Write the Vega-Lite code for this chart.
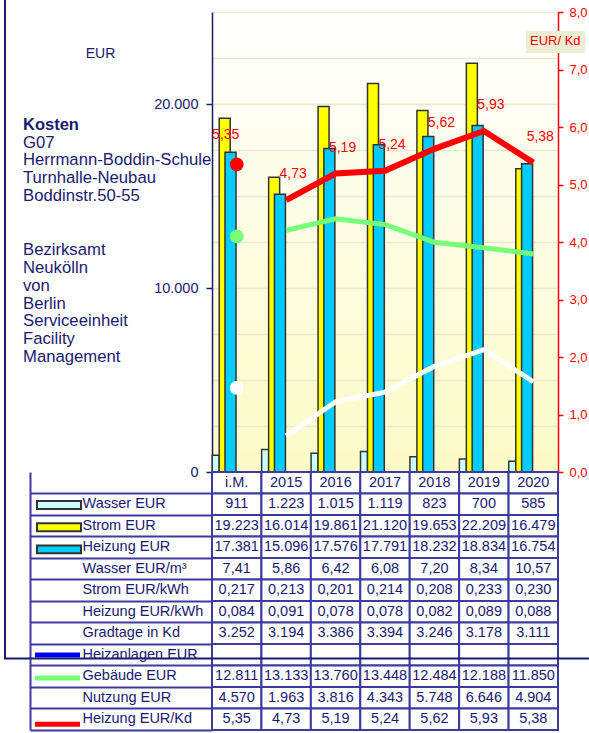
{
  "$schema": "https://vega.github.io/schema/vega-lite/v6.json",
  "padding": {"left": 4, "top": 2, "right": 0, "bottom": 0},
  "background": "white",
  "spacing": 0,
  "bounds": "flush",
  "config": {
    "locale": {"number": {"decimal": ",", "thousands": ".", "grouping": [3], "currency": ["", " €"]}},
    "font": "Liberation Sans",
    "view": {"stroke": null}
  },
  "datasets": {
    "main": [
      {"cat": "i.M.", "wasser": 911, "strom": 19223, "heizung": 17381, "gebaeude": 12811, "nutzung": 4570, "kd": 5.35},
      {"cat": "2015", "wasser": 1223, "strom": 16014, "heizung": 15096, "gebaeude": 13133, "nutzung": 1963, "kd": 4.73},
      {"cat": "2016", "wasser": 1015, "strom": 19861, "heizung": 17576, "gebaeude": 13760, "nutzung": 3816, "kd": 5.19},
      {"cat": "2017", "wasser": 1119, "strom": 21120, "heizung": 17791, "gebaeude": 13448, "nutzung": 4343, "kd": 5.24},
      {"cat": "2018", "wasser": 823, "strom": 19653, "heizung": 18232, "gebaeude": 12484, "nutzung": 5748, "kd": 5.62},
      {"cat": "2019", "wasser": 700, "strom": 22209, "heizung": 18834, "gebaeude": 12188, "nutzung": 6646, "kd": 5.93},
      {"cat": "2020", "wasser": 585, "strom": 16479, "heizung": 16754, "gebaeude": 11850, "nutzung": 4904, "kd": 5.38}
    ],
    "table": [
      {"r": "hdr", "iM": "i.M.", "y2015": "2015", "y2016": "2016", "y2017": "2017", "y2018": "2018", "y2019": "2019", "y2020": "2020"},
      {"r": "Wasser EUR", "iM": "911", "y2015": "1.223", "y2016": "1.015", "y2017": "1.119", "y2018": "823", "y2019": "700", "y2020": "585"},
      {"r": "Strom EUR", "iM": "19.223", "y2015": "16.014", "y2016": "19.861", "y2017": "21.120", "y2018": "19.653", "y2019": "22.209", "y2020": "16.479"},
      {"r": "Heizung EUR", "iM": "17.381", "y2015": "15.096", "y2016": "17.576", "y2017": "17.791", "y2018": "18.232", "y2019": "18.834", "y2020": "16.754"},
      {"r": "Wasser EUR/m³", "iM": "7,41", "y2015": "5,86", "y2016": "6,42", "y2017": "6,08", "y2018": "7,20", "y2019": "8,34", "y2020": "10,57"},
      {"r": "Strom EUR/kWh", "iM": "0,217", "y2015": "0,213", "y2016": "0,201", "y2017": "0,214", "y2018": "0,208", "y2019": "0,233", "y2020": "0,230"},
      {"r": "Heizung EUR/kWh", "iM": "0,084", "y2015": "0,091", "y2016": "0,078", "y2017": "0,078", "y2018": "0,082", "y2019": "0,089", "y2020": "0,088"},
      {"r": "Gradtage in Kd", "iM": "3.252", "y2015": "3.194", "y2016": "3.386", "y2017": "3.394", "y2018": "3.246", "y2019": "3.178", "y2020": "3.111"},
      {"r": "Heizanlagen EUR", "iM": "", "y2015": "", "y2016": "", "y2017": "", "y2018": "", "y2019": "", "y2020": ""},
      {"r": "Gebäude EUR", "iM": "12.811", "y2015": "13.133", "y2016": "13.760", "y2017": "13.448", "y2018": "12.484", "y2019": "12.188", "y2020": "11.850"},
      {"r": "Nutzung EUR", "iM": "4.570", "y2015": "1.963", "y2016": "3.816", "y2017": "4.343", "y2018": "5.748", "y2019": "6.646", "y2020": "4.904"},
      {"r": "Heizung EUR/Kd", "iM": "5,35", "y2015": "4,73", "y2016": "5,19", "y2017": "5,24", "y2018": "5,62", "y2019": "5,93", "y2020": "5,38"}
    ]
  },
  "vconcat": [
    {
      "width": 346,
      "height": 460,
      "data": {"name": "main"},
      "view": {
        "fill": {"gradient": "linear", "x1": 0, "y1": 0, "x2": 0, "y2": 1, "stops": [{"offset": 0, "color": "#ffffff"}, {"offset": 1, "color": "#fcfbc6"}]},
        "stroke": null
      },
      "title": {
        "text": "Kosten",
        "subtitle": ["G07", "Herrmann-Boddin-Schule", "Turnhalle-Neubau", "Boddinstr.50-55", "\u200b", "\u200b", "Bezirksamt", "Neukölln", "von", "Berlin", "Serviceeinheit", "Facility", "Management"],
        "orient": "top",
        "anchor": "start",
        "frame": "group",
        "align": "left",
        "dx": -189,
        "dy": 360,
        "offset": 0,
        "font": "Liberation Sans",
        "fontSize": 16.5,
        "fontWeight": "bold",
        "color": "#1a1a70",
        "subtitleFont": "Liberation Sans",
        "subtitleFontSize": 16.7,
        "subtitleColor": "#1a1a70",
        "subtitlePadding": 1,
        "subtitleLineHeight": 17.9
      },
      "encoding": {
        "x": {"field": "cat", "type": "nominal", "sort": null, "scale": {"domain": ["i.M.", "2015", "2016", "2017", "2018", "2019", "2020"], "paddingInner": 0, "paddingOuter": 0}, "axis": null}
      },
      "layer": [
        {
          "layer": [
            {
              "mark": {"type": "bar", "width": 7, "xOffset": -21, "stroke": "#333333", "strokeWidth": 1.5},
              "encoding": {
                "y": {
                  "field": "wasser", "type": "quantitative", "title": "EUR",
                  "scale": {"domain": [0, 25000], "nice": false},
                  "axis": {
                    "values": [0, 2500, 5000, 7500, 10000, 12500, 15000, 17500, 20000, 22500, 25000],
                    "format": ",d",
                    "labelExpr": "datum.value % 10000 === 0 ? datum.label : ''",
                    "tickOpacity": {"condition": {"test": "datum.value % 10000 === 0", "value": 1}, "value": 0},
                    "tickSize": 6, "tickColor": "#1a1a70", "tickWidth": 1.5,
                    "grid": true, "gridColor": "#ebe9cf", "gridWidth": 1.5,
                    "domainColor": "#1a1a70", "domainWidth": 1.5,
                    "labelColor": "#1a1a70", "labelFontSize": 14.5, "labelPadding": 8,
                    "titleAngle": 0, "titleX": -112, "titleY": 41, "titleAlign": "center", "titleBaseline": "middle",
                    "titleFontWeight": "normal", "titleFontSize": 14, "titleColor": "#1a1a70"
                  }
                },
                "fill": {
                  "datum": "Wasser EUR", "type": "nominal",
                  "scale": {"domain": ["Wasser EUR", "Strom EUR", "Heizung EUR"], "range": ["#ccffff", "#ffff00", "#00ccff"]},
                  "legend": {
                    "orient": "none", "legendX": -159.5, "legendY": 486.5, "title": null,
                    "labelExpr": "''", "labelFontSize": 6, "padding": 0, "rowPadding": 5.2,
                    "symbolType": "M-4,-0.72H4V0.72H-4Z", "symbolSize": 121,
                    "symbolStrokeColor": "#333333", "symbolStrokeWidth": 2, "symbolOpacity": 1
                  }
                }
              }
            },
            {
              "mark": {"type": "bar", "width": 11, "xOffset": -12, "stroke": "#333333", "strokeWidth": 1.5},
              "encoding": {
                "y": {"field": "strom", "type": "quantitative", "title": "EUR"},
                "fill": {"datum": "Strom EUR", "type": "nominal"}
              }
            },
            {
              "mark": {"type": "bar", "width": 11, "xOffset": -6.2, "stroke": "#333333", "strokeWidth": 1.5},
              "encoding": {
                "y": {"field": "heizung", "type": "quantitative", "title": "EUR"},
                "fill": {"datum": "Heizung EUR", "type": "nominal"}
              }
            },
            {
              "transform": [{"filter": "datum.cat !== 'i.M.'"}],
              "mark": {"type": "line", "strokeWidth": 5},
              "encoding": {
                "y": {"field": "gebaeude", "type": "quantitative", "title": "EUR"},
                "stroke": {
                  "datum": "Gebäude EUR", "type": "nominal",
                  "scale": {"domain": ["Heizanlagen EUR", "Gebäude EUR", "Nutzung EUR", "Heizung EUR/Kd"], "range": ["#0000ff", "#77ff77", "#ffffff", "#ff0000"]},
                  "legend": {
                    "orient": "none", "legendX": -160, "legendY": 637.5, "title": null,
                    "labelExpr": "''", "labelFontSize": 4, "padding": 0, "rowPadding": 2.1,
                    "symbolType": "M-8,0H8", "symbolSize": 31.64, "symbolStrokeWidth": 5, "symbolOpacity": 1,
                    "symbolFillColor": "transparent"
                  }
                },
                "strokeDash": {
                  "datum": "rahmen", "type": "nominal",
                  "scale": {"range": [[1, 0]]},
                  "legend": {
                    "orient": "none", "legendX": -208, "legendY": -10, "title": null,
                    "labelExpr": "''", "labelFontSize": 1, "padding": 0,
                    "symbolType": "M-1,-1.241H1V1.241H-1Z", "symbolSize": 342225,
                    "symbolStrokeColor": "#1a1a70", "symbolStrokeWidth": 2, "symbolFillColor": "transparent", "symbolOpacity": 1
                  }
                }
              }
            },
            {
              "transform": [{"filter": "datum.cat !== 'i.M.'"}],
              "mark": {"type": "line", "strokeWidth": 5},
              "encoding": {
                "y": {"field": "nutzung", "type": "quantitative", "title": "EUR"},
                "stroke": {"datum": "Nutzung EUR", "type": "nominal"}
              }
            },
            {
              "transform": [{"filter": "datum.cat === 'i.M.'"}],
              "mark": {"type": "point", "filled": true, "size": 190, "opacity": 1, "color": "#77ff77"},
              "encoding": {"y": {"field": "gebaeude", "type": "quantitative", "title": "EUR"}}
            },
            {
              "transform": [{"filter": "datum.cat === 'i.M.'"}],
              "mark": {"type": "point", "filled": true, "size": 190, "opacity": 1, "color": "#ffffff"},
              "encoding": {"y": {"field": "nutzung", "type": "quantitative", "title": "EUR"}}
            }
          ]
        },
        {
          "layer": [
            {
              "transform": [{"filter": "datum.cat !== 'i.M.'"}],
              "mark": {"type": "line", "strokeWidth": 6},
              "encoding": {
                "y": {
                  "field": "kd", "type": "quantitative", "title": null,
                  "scale": {"domain": [0, 8], "nice": false},
                  "axis": {
                    "orient": "right",
                    "title": null,
                    "values": [0, 1, 2, 3, 4, 5, 6, 7, 8],
                    "format": ".1f",
                    "grid": false,
                    "domainColor": "#ff0000", "domainWidth": 1.5,
                    "tickColor": "#ff0000", "tickSize": 5, "tickWidth": 1.5,
                    "labelColor": "#ff0000", "labelFontSize": 13, "labelPadding": 6
                  }
                },
                "stroke": {"datum": "Heizung EUR/Kd", "type": "nominal"},
                "opacity": {
                  "datum": "einheit", "type": "ordinal",
                  "scale": {"range": [1]},
                  "legend": {
                    "orient": "none", "legendX": 314, "legendY": 19,
                    "title": "EUR/ Kd", "titleColor": "#ff0000", "titleFontSize": 13, "titleFontWeight": "normal",
                    "titleFont": "Liberation Sans", "titlePadding": 0,
                    "fillColor": "#efedd3", "padding": 4,
                    "labelExpr": "''", "labelFontSize": 1, "symbolSize": 0, "symbolOpacity": 0, "symbolStrokeWidth": 0
                  }
                }
              }
            },
            {
              "transform": [{"filter": "datum.cat === 'i.M.'"}],
              "mark": {"type": "point", "filled": true, "size": 190, "opacity": 1, "color": "#ff0000"},
              "encoding": {"y": {"field": "kd", "type": "quantitative", "title": null}}
            },
            {
              "transform": [{"filter": "datum.cat === 'i.M.'"}],
              "mark": {"type": "text", "color": "#ff0000", "fontSize": 14, "dx": -11, "dy": -29},
              "encoding": {
                "y": {"field": "kd", "type": "quantitative", "title": null},
                "text": {"field": "kd", "type": "quantitative", "format": ".2f"}
              }
            },
            {
              "transform": [{"filter": "datum.cat !== 'i.M.'"}],
              "mark": {"type": "text", "color": "#ff0000", "fontSize": 14, "dx": 7, "dy": -26},
              "encoding": {
                "y": {"field": "kd", "type": "quantitative", "title": null},
                "text": {"field": "kd", "type": "quantitative", "format": ".2f"}
              }
            }
          ]
        }
      ],
      "resolve": {"scale": {"y": "independent"}}
    },
    {
      "width": 346,
      "height": 258,
      "data": {"name": "table"},
      "transform": [{"fold": ["iM", "y2015", "y2016", "y2017", "y2018", "y2019", "y2020"], "as": ["c", "v"]}],
      "encoding": {
        "x": {"field": "c", "type": "nominal", "scale": {"domain": ["iM", "y2015", "y2016", "y2017", "y2018", "y2019", "y2020"], "paddingInner": 0, "paddingOuter": 0}, "axis": null},
        "y": {
          "field": "r", "type": "nominal",
          "scale": {"domain": ["hdr", "Wasser EUR", "Strom EUR", "Heizung EUR", "Wasser EUR/m³", "Strom EUR/kWh", "Heizung EUR/kWh", "Gradtage in Kd", "Heizanlagen EUR", "Gebäude EUR", "Nutzung EUR", "Heizung EUR/Kd"], "paddingInner": 0, "paddingOuter": 0},
          "axis": {
            "orient": "left", "offset": 182, "title": null, "grid": false,
            "values": ["hdr", "Wasser EUR", "Strom EUR", "Heizung EUR", "Wasser EUR/m³", "Strom EUR/kWh", "Heizung EUR/kWh", "Gradtage in Kd", "Heizanlagen EUR", "Gebäude EUR", "Nutzung EUR", "Heizung EUR/Kd"],
            "bandPosition": 1,
            "domain": true, "domainColor": "#3c3ca0", "domainWidth": 2,
            "ticks": true, "tickSize": -182, "tickColor": "#3c3ca0", "tickWidth": 2,
            "labelAlign": "left", "labelBaseline": "middle", "labelPadding": 130, "labelOffset": 0,
            "labelFontSize": 14.5, "labelColor": "#1a1a70", "labelLimit": 0,
            "labelExpr": "datum.value === 'hdr' ? '' : datum.label"
          }
        }
      },
      "layer": [
        {"mark": {"type": "rect", "fill": "#ffffff", "stroke": "#3c3ca0", "strokeWidth": 2}},
        {"mark": {"type": "text", "fontSize": 14.5, "color": "#1a1a70"}, "encoding": {"text": {"field": "v", "type": "nominal"}}}
      ]
    }
  ]
}
